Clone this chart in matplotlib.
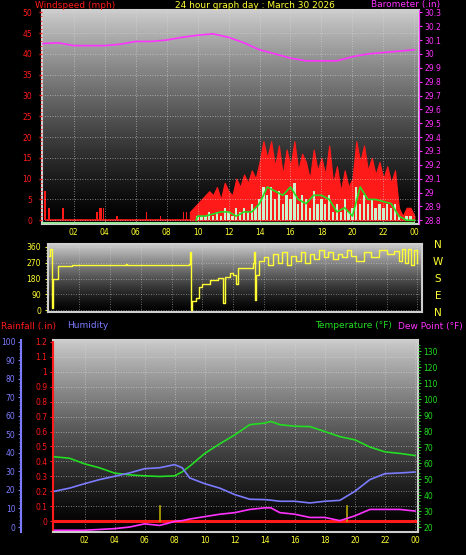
import numpy as np
import matplotlib
matplotlib.use("Agg")
import matplotlib.pyplot as plt

W, H = 466, 555
# ---------------- data ----------------
baro_hours = list(range(25))
baro = [30.075, 30.08, 30.06, 30.06, 30.06, 30.07, 30.09, 30.09, 30.10, 30.12, 30.135, 30.145,
        30.12, 30.08, 30.03, 30.0, 29.97, 29.95, 29.95, 29.95, 29.98, 30.0, 30.01, 30.02, 30.03]

spike_hours = [0.1, 0.15, 0.4, 1.3, 3.5, 3.7, 3.8, 3.9, 4.8, 6.7, 7.6, 9.1, 9.3]
spike_gust = [7, 7, 3, 3, 2, 3, 3, 3, 1, 2, 1, 2, 2]

gust_hours = [9.5 + 0.25 * i for i in range(59)]
gust = [2, 3, 4, 5, 6, 7, 6, 8, 5, 9, 7, 6, 10, 8, 11, 9, 12, 10, 14, 19, 15, 19, 13, 18, 11, 17,
        13, 19, 12, 16, 14, 10, 17, 12, 15, 11, 18, 9, 13, 7, 12, 8, 10, 19, 14, 18, 12, 15, 11, 14,
        10, 13, 9, 12, 3, 1, 3, 3, 1]
speed = [0, 0, 1, 1, 1, 2, 1, 2, 1, 3, 2, 1, 3, 2, 3, 2, 4, 3, 5, 8, 6, 8, 5, 7, 4, 6,
         5, 9, 4, 6, 5, 3, 7, 4, 5, 4, 6, 2, 4, 2, 5, 2, 3, 8, 4, 6, 4, 5, 3, 4,
         3, 4, 3, 4, 1, 0, 1, 1, 0]
avg_hours = [9.9, 10, 10.5, 11, 11.5, 12, 12.5, 13, 13.5, 14, 14.5, 15, 15.5, 16, 16.5, 17, 17.5,
             18, 18.5, 19, 19.5, 20, 20.5, 21, 21.5, 22, 22.5, 23, 23.5, 24]
avg = [0, 1, 1, 1.5, 2, 2, 1, 2, 2, 4, 8, 7, 6, 8, 5, 4, 6, 6, 5, 2, 3, 1, 8, 5, 5, 4.5, 4, 1, 0, 0]

dir_hours = [0, 0.1, 0.2, 0.3, 0.6, 1.0, 1.5, 2.0, 5.0, 5.1, 9.1, 9.2, 9.25, 9.3, 9.6, 9.8, 10.0,
             10.5, 11.0, 11.3, 11.35, 11.5, 11.8, 12.0, 12.2, 12.3, 13.0, 13.3, 13.35, 13.4, 13.5,
             13.7, 14.0, 14.3, 14.6, 14.9, 15.2, 15.5, 15.8, 16.1, 16.4, 16.7, 17.0, 17.3, 17.6,
             17.9, 18.2, 18.5, 18.8, 19.1, 19.4, 19.7, 20.0, 20.5, 21.0, 21.5, 22.0, 22.5, 22.8,
             23.0, 23.2, 23.4, 23.6, 23.8, 24.0]
wdir = [310, 350, 10, 180, 250, 250, 255, 260, 265, 260, 265, 330, 0, 50, 70, 130, 150,
        170, 185, 185, 40, 190, 210, 200, 150, 240, 240, 270, 330, 60, 200,
        280, 300, 260, 320, 270, 330, 260, 310, 280, 330, 270, 320, 290, 340, 300, 330, 290, 320,
        300, 340, 310, 280, 330, 300, 340, 320, 335, 280, 350, 270, 350, 260, 340, 270]

th_hours = [0, 1, 2, 3, 4, 5, 6, 7, 8, 8.5, 9, 10, 11, 12, 13, 14, 14.4, 15, 16, 17, 18, 19, 20,
            21, 22, 23, 24]
temp = [63.9, 63, 59.5, 57, 53.7, 52.6, 52, 51.6, 52, 54.5, 58, 66, 72, 77.6, 84, 85, 86, 84, 83,
        82.8, 79.7, 76.5, 74.5, 70, 67, 66, 64.7]
hum = [19.3, 21, 23.4, 25.6, 27.4, 29.2, 31.5, 32, 33.7, 32, 26.5, 23.4, 21, 17.5, 15, 14.8, 14.5,
       13.9, 13.9, 13, 13.9, 14.4, 19.3, 25.6, 28.8, 29.2, 29.7]
dew = [18, 18, 18, 18.5, 19, 20, 22, 21, 23.5, 24, 25, 26.5, 28, 29, 31, 32, 32, 29, 28, 26, 26,
       24, 27, 31, 31, 31, 30]
rain_hours = [0, 24]
rain = [0, 0]
marker_hours = [7.0, 19.5]

xt_pos = list(range(2, 25, 2))
xt_lab = ["02", "04", "06", "08", "10", "12", "14", "16", "18", "20", "22", "00"]

# ---------------- figure ----------------
fig = plt.figure(figsize=(W / 100, H / 100), dpi=100, facecolor="black")


def ax_px(l, t, r, b):
    return fig.add_axes([l / W, 1 - b / H, (r - l) / W, (b - t) / H])


g = np.linspace(0.0, 1.0, 256)
grad = (0.8 * (1 - g) ** 1.3).reshape(-1, 1)


def bg(ax):
    ax.imshow(np.dstack([grad, grad, grad]), aspect="auto", extent=[0, 1, 0, 1],
              transform=ax.transAxes, zorder=0)
    ax.set_facecolor("black")
    for s in ax.spines.values():
        s.set_color("#cfcfcf")
        s.set_linewidth(1.5)


FS = 5.5
YEL = "#ffff33"
RED = "#ff1a1a"
MAG = "#ff33ff"
BLU = "#7b7bff"
GRN = "#22dd22"

# top panel
ax1 = ax_px(42, 10, 419, 224)
bg(ax1)
ax1.set_xlim(-0.05, 24.3)
ax1.set_ylim(-0.9, 50.55)
ax1.set_yticks(range(0, 51, 5))
ax1.set_yticks(range(0, 51, 1), minor=True)
ax1.set_xticks(xt_pos)
ax1.set_xticklabels(xt_lab)
ax1.tick_params(axis="y", colors=RED, labelsize=FS, length=2, width=1, pad=5)
ax1.tick_params(axis="y", which="minor", colors=RED, length=1.5)
ax1.tick_params(axis="x", colors=YEL, labelsize=FS, length=0, pad=3)
ax1.grid(True, color="#dddddd", linestyle=(0, (1, 2)), linewidth=0.6, alpha=0.7)
ax1.set_axisbelow(False)
for h, gg in zip(spike_hours, spike_gust):
    ax1.bar(h, gg, width=0.08, color=RED, zorder=2)
ax1.plot([0.3, 9.5], [0, 0], color=RED, lw=1.2, zorder=2)
ax1.fill_between(gust_hours, 0, gust, color=RED, lw=0.8, edgecolor=RED, zorder=2)
ax1.bar(gust_hours, speed, width=0.15, color="#ccf2cc", zorder=3)
ax1.plot(avg_hours, avg, color=GRN, lw=1.2, zorder=4)
ax1.plot([0, 24], [-0.6, -0.6], color="#9ee89e", lw=1.5, zorder=3)
ax1b = ax1.twinx()
ax1b.set_ylim(28.773, 30.317)
bt = np.round(np.arange(28.8, 30.31, 0.1), 1)
ax1b.set_yticks(bt)
ax1b.set_yticklabels([("%g" % v) for v in bt])
ax1b.tick_params(axis="y", colors=MAG, labelsize=FS, length=2, pad=2)
ax1b.plot(baro_hours, baro, color=MAG, lw=1.2)
for s in ax1b.spines.values():
    s.set_visible(False)
ax1b.spines["right"].set_visible(True)
ax1b.spines["right"].set_color(MAG)

fig.text(35 / W, 1 - 5 / H, "Windspeed (mph)", color=RED, fontsize=6.5, va="center")
fig.text(255 / W, 1 - 5 / H, "24 hour graph day : March 30 2026", color=YEL, fontsize=6.5,
         va="center", ha="center")
fig.text(440 / W, 1 - 5 / H, "Barometer (.in)", color=MAG, fontsize=6.5, va="center", ha="right")

# middle panel
ax2 = ax_px(48, 244, 422, 312)
bg(ax2)
ax2.set_xlim(-0.05, 24.3)
ax2.set_ylim(-11, 377)
ax2.set_yticks([0, 90, 180, 270, 360])
ax2.set_yticks(range(0, 361, 18), minor=True)
ax2.set_xticks(xt_pos)
ax2.tick_params(axis="x", length=0, labelbottom=False)
ax2.tick_params(axis="y", colors=YEL, labelsize=FS, length=2, pad=3)
ax2.tick_params(axis="y", which="minor", colors=YEL, length=1.5)
ax2.grid(True, color="#dddddd", linestyle=(0, (1, 2)), linewidth=0.6, alpha=0.6)
ax2.step(dir_hours, wdir, where="post", color=YEL, lw=1.0, zorder=3)
for lab, y in zip(["N", "W", "S", "E", "N"], [245, 262, 279, 296, 313]):
    fig.text(438 / W, 1 - y / H, lab, color=YEL, fontsize=7.5, ha="center", va="center")

# bottom panel
ax3 = ax_px(53, 340, 418, 532)
bg(ax3)
ax3.set_xlim(-0.1, 24.2)
ax3.set_ylim(-0.073, 1.213)
rt = np.round(np.arange(0, 1.21, 0.1), 1)
ax3.set_yticks(rt)
ax3.set_yticklabels(["%g" % v for v in rt])
ax3.set_xticks(xt_pos)
ax3.set_xticklabels(xt_lab)
ax3.tick_params(axis="x", colors=YEL, labelsize=FS, length=0, pad=3)
ax3.tick_params(axis="y", colors=RED, labelsize=FS, length=2, pad=2)
ax3.spines["left"].set_color(RED)
ax3.grid(True, color="#dddddd", linestyle=(0, (1, 2)), linewidth=0.6, alpha=0.7)
ax3.plot(rain_hours, rain, color=RED, lw=2.2, zorder=4)
for m in marker_hours:
    ax3.plot([m, m], [0, 0.1], color="#b8a800", lw=1.2, zorder=4)

ax3t = ax3.twinx()
ax3t.set_ylim(16.9, 136.9)
ax3t.set_yticks(range(20, 131, 10))
ax3t.set_yticks(range(20, 136, 2), minor=True)
ax3t.tick_params(axis="y", colors=GRN, labelsize=FS, length=2, pad=2)
ax3t.tick_params(axis="y", which="minor", colors=GRN, length=1.5)
for s in ax3t.spines.values():
    s.set_visible(False)
ax3t.plot(th_hours, temp, color=GRN, lw=1.2, zorder=3)
ax3t.plot(th_hours, dew, color=MAG, lw=1.2, zorder=3)

ax3h = ax3.twinx()
ax3h.set_ylim(-2.7, 101)
ax3h.yaxis.set_ticks_position("left")
ax3h.spines["left"].set_position(("outward", 23))
for s in ["top", "bottom", "right"]:
    ax3h.spines[s].set_visible(False)
ax3h.spines["left"].set_visible(True)
ax3h.spines["left"].set_color(BLU)
ax3h.spines["left"].set_linewidth(1.5)
ax3h.set_yticks(range(0, 101, 10))
ax3h.set_yticks(range(0, 101, 2), minor=True)
ax3h.tick_params(axis="y", colors=BLU, labelsize=FS, length=2, pad=2)
ax3h.tick_params(axis="y", which="minor", colors=BLU, length=1.5)
ax3h.plot(th_hours, hum, color=BLU, lw=1.2, zorder=3)

fig.text(1 / W, 1 - 326 / H, "Rainfall (.in)", color=RED, fontsize=6.5, va="center")
fig.text(67 / W, 1 - 326 / H, "Humidity", color=BLU, fontsize=6.5, va="center")
fig.text(392 / W, 1 - 326 / H, "Temperature (°F)", color=GRN, fontsize=6.5, va="center", ha="right")
fig.text(463 / W, 1 - 326 / H, "Dew Point (°F)", color=MAG, fontsize=6.5, va="center", ha="right")

fig.savefig("out.png", dpi=100, facecolor="black")
